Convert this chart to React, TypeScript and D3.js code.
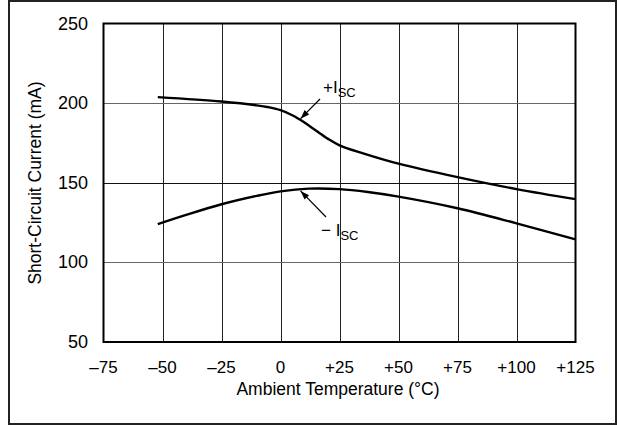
import React from "react";
import * as d3 from "d3";

const xTicks = [-75, -50, -25, 0, 25, 50, 75, 100, 125];
const xTickLabels = ["–75", "–50", "–25", "0", "+25", "+50", "+75", "+100", "+125"];
const yTicks = [50, 100, 150, 200, 250];

const posTemp = [-52, -25, -10, -5, 0, 5, 10, 15, 20, 25, 35, 50, 75, 100, 125];
const posIsc = [203.8, 201, 198.6, 197.4, 195.6, 192.4, 188, 182.8, 177.7, 173.5, 168.5, 162, 153.5, 146, 139.7];

const negTemp = [-52, -40, -25, -10, 0, 12, 25, 37, 50, 75, 100, 125];
const negIsc = [124, 129.8, 136.5, 141.8, 144.6, 146.3, 146, 144.2, 141.3, 134, 124.5, 114.4];

const W = 619;
const H = 425;
const left = 103.5;
const right = 575.5;
const top = 23.5;
const bottom = 342;

export default function App() {
  const x = d3.scaleLinear().domain([-75, 125]).range([left, right]);
  const y = d3.scaleLinear().domain([50, 250]).range([bottom, top]);

  const line = d3
    .line<[number, number]>()
    .x((d) => x(d[0]))
    .y((d) => y(d[1]))
    .curve(d3.curveCatmullRom.alpha(0.5));

  const posData: [number, number][] = posTemp.map((t, i) => [t, posIsc[i]]);
  const negData: [number, number][] = negTemp.map((t, i) => [t, negIsc[i]]);

  const font = "Liberation Sans, Arial, Helvetica, sans-serif";

  const tipT = 8.5;
  const posInterp = d3.scaleLinear().domain(posTemp).range(posIsc);
  const negInterp = d3.scaleLinear().domain(negTemp).range(negIsc);
  const posTip = [x(tipT), y(posInterp(tipT)) - 1.5];
  const negTip = [x(tipT), y(negInterp(tipT)) + 1.5];
  const posTail = [320, 99];
  const negTail = [326, 217];

  const arrowHead = (tip: number[], tail: number[]) => {
    const dx = tail[0] - tip[0];
    const dy = tail[1] - tip[1];
    const len = Math.hypot(dx, dy);
    const ux = dx / len;
    const uy = dy / len;
    const L = 9;
    const Wd = 3.2;
    const bx = tip[0] + ux * L;
    const by = tip[1] + uy * L;
    return `M${tip[0]},${tip[1]}L${bx - uy * Wd},${by + ux * Wd}L${bx + uy * Wd},${by - ux * Wd}Z`;
  };

  return (
    <svg
      width={W}
      height={H}
      style={{ position: "absolute", left: 0, top: 0, background: "#fff" }}
    >
      <rect x={9} y={1} width={607} height={423} fill="none" stroke="#222" strokeWidth={2} />

      {xTicks.slice(1, -1).map((t) => (
        <line
          key={"gx" + t}
          x1={Math.round(x(t)) + 0.5}
          x2={Math.round(x(t)) + 0.5}
          y1={top}
          y2={bottom}
          stroke="#222"
          strokeWidth={1}
        />
      ))}
      {yTicks.slice(1, -1).map((t) => (
        <line
          key={"gy" + t}
          x1={left}
          x2={right}
          y1={Math.round(y(t)) + 0.5}
          y2={Math.round(y(t)) + 0.5}
          stroke={t === 150 ? "#111" : "#666"}
          strokeWidth={1}
        />
      ))}

      <rect
        x={left}
        y={top}
        width={right - left}
        height={bottom - top}
        fill="none"
        stroke="#000"
        strokeWidth={2}
      />

      <path d={line(posData) || ""} fill="none" stroke="#000" strokeWidth={2.4} />
      <path d={line(negData) || ""} fill="none" stroke="#000" strokeWidth={2.4} />

      <line x1={posTail[0]} y1={posTail[1]} x2={posTip[0]} y2={posTip[1]} stroke="#000" strokeWidth={1.2} />
      <path d={arrowHead(posTip, posTail)} fill="#000" />
      <line x1={negTail[0]} y1={negTail[1]} x2={negTip[0]} y2={negTip[1]} stroke="#000" strokeWidth={1.2} />
      <path d={arrowHead(negTip, negTail)} fill="#000" />

      <text x={323} y={93} fontFamily={font} fontSize={17} fill="#000">
        +I
        <tspan fontSize={13} dy={3.5}>SC</tspan>
      </text>
      <text x={321} y={236} fontFamily={font} fontSize={17} fill="#000">
        − I
        <tspan fontSize={13} dy={3.5}>SC</tspan>
      </text>

      {yTicks.map((t) => (
        <text
          key={"yl" + t}
          x={88}
          y={y(t) + 6}
          textAnchor="end"
          fontFamily={font}
          fontSize={18}
          fill="#000"
        >
          {t}
        </text>
      ))}

      {xTicks.map((t, i) => (
        <text
          key={"xl" + t}
          x={x(t)}
          y={373}
          textAnchor="middle"
          fontFamily={font}
          fontSize={17}
          fill="#000"
        >
          {xTickLabels[i]}
        </text>
      ))}

      <text x={338} y={395} textAnchor="middle" fontFamily={font} fontSize={17.5} fill="#000">
        Ambient Temperature (°C)
      </text>
      <text
        transform={`translate(41, 183) rotate(-90)`}
        textAnchor="middle"
        fontFamily={font}
        fontSize={17.5}
        fill="#000"
      >
        Short-Circuit Current (mA)
      </text>
    </svg>
  );
}
